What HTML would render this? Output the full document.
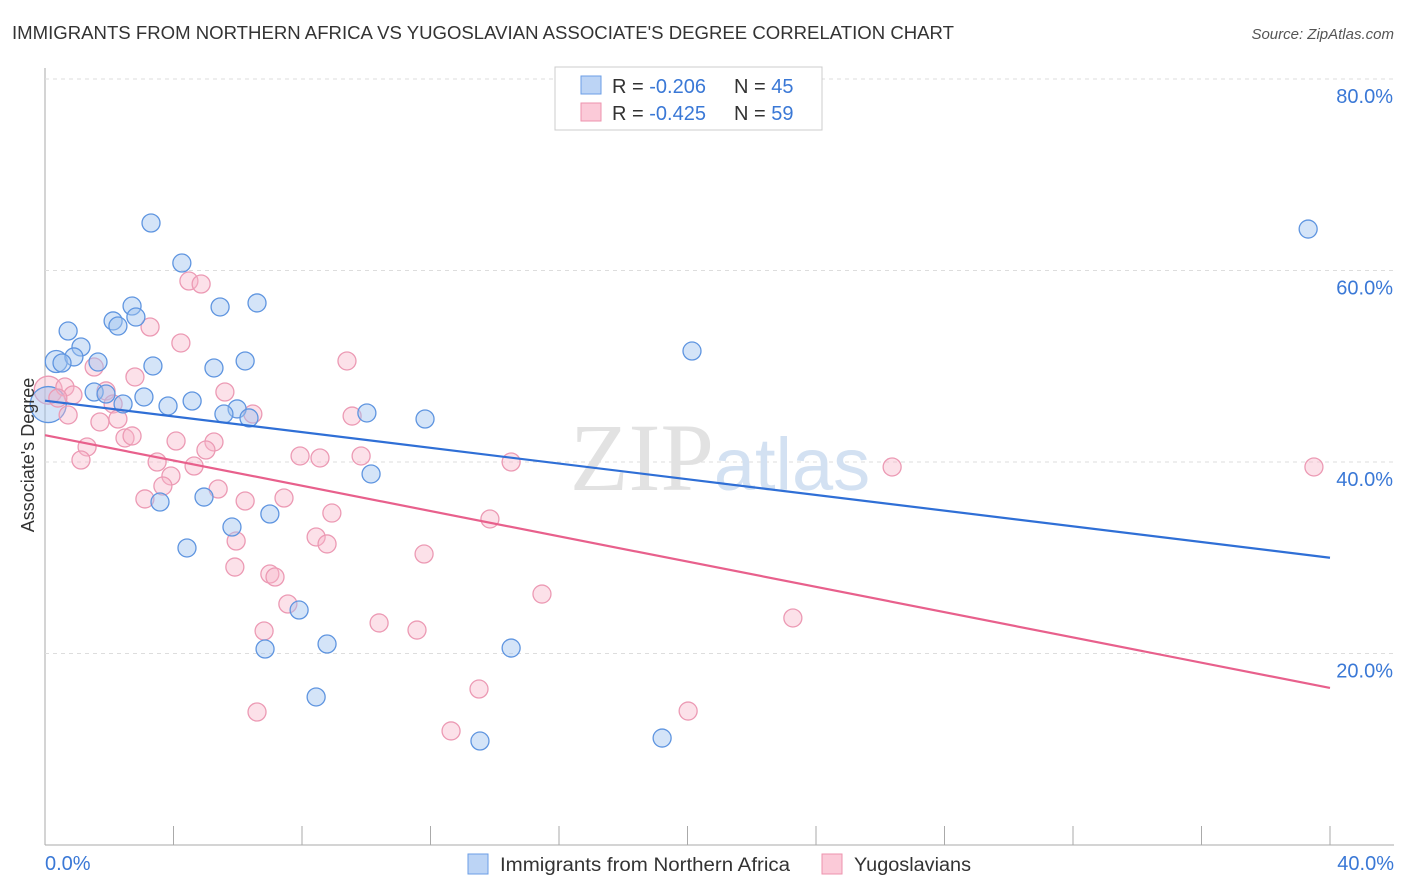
<!DOCTYPE html>
<html><head><meta charset="utf-8"><style>
body{margin:0;background:#fff;font-family:"Liberation Sans",sans-serif}
</style></head><body>
<svg width="1406" height="892" style="display:block">
<text x="12" y="39" font-size="18" fill="#333" textLength="942" lengthAdjust="spacingAndGlyphs">IMMIGRANTS FROM NORTHERN AFRICA VS YUGOSLAVIAN ASSOCIATE'S DEGREE CORRELATION CHART</text>
<text x="1394" y="39" font-size="15" fill="#555" text-anchor="end" font-style="italic">Source: ZipAtlas.com</text>
<g id="grid"></g>
<text x="720" y="490" font-size="96" fill="#e2e2e2" text-anchor="middle" font-family="Liberation Serif">ZIP<tspan fill="#d3e1f2" font-family="Liberation Sans" font-size="74">atlas</tspan></text>
<g id="marks"></g>
<text x="34" y="455" font-size="18" fill="#333" text-anchor="middle" transform="rotate(-90 34 455)">Associate's Degree</text>
<text x="45" y="870" font-size="20" fill="#3a78d6">0.0%</text>
<text x="1394" y="870" font-size="20" fill="#3a78d6" text-anchor="end">40.0%</text>
<g>
<rect x="555" y="67" width="267" height="63" fill="#fff" stroke="#ccc"/>
<rect x="581" y="76" width="20" height="18" fill="#bcd4f5" stroke="#6b9ee6"/>
<rect x="581" y="103" width="20" height="18" fill="#fbcad8" stroke="#ee93ae"/>
<text x="612" y="93" font-size="20" fill="#333">R = <tspan fill="#3a78d6">-0.206</tspan></text>
<text x="734" y="93" font-size="20" fill="#333">N = <tspan fill="#3a78d6">45</tspan></text>
<text x="612" y="120" font-size="20" fill="#333">R = <tspan fill="#3a78d6">-0.425</tspan></text>
<text x="734" y="120" font-size="20" fill="#333">N = <tspan fill="#3a78d6">59</tspan></text>
</g>
<g>
<rect x="468" y="854" width="20" height="20" fill="#bcd4f5" stroke="#6b9ee6"/>
<text x="500" y="871" font-size="19" fill="#333" textLength="290" lengthAdjust="spacingAndGlyphs">Immigrants from Northern Africa</text>
<rect x="822" y="854" width="20" height="20" fill="#fbcad8" stroke="#ee93ae"/>
<text x="854" y="871" font-size="19" fill="#333" textLength="117" lengthAdjust="spacingAndGlyphs">Yugoslavians</text>
</g>
</svg>
<script>
const yTicks=[20,40,60,80];
const yTickLabels=["20.0%","40.0%","60.0%","80.0%"];
const xTicks=[0,4,8,12,16,20,24,28,32,36,40];
const bluePx=[[151,223],[182,263],[132,306],[220,307],[257,303],[113,321],[118,326],[136,317],[68,331],[81,347],[74,357],[62,363],[98,362],[153,366],[214,368],[245,361],[692,351],[94,392],[106,394],[144,397],[123,404],[168,406],[192,401],[237,409],[224,414],[249,418],[367,413],[425,419],[371,474],[160,502],[204,497],[270,514],[232,527],[187,548],[299,610],[327,644],[265,649],[316,697],[511,648],[480,741],[662,738],[1308,229]];
const pinkPx=[[189,281],[201,284],[150,327],[181,343],[347,361],[94,367],[135,377],[106,391],[225,392],[65,387],[73,395],[58,398],[113,404],[118,419],[100,422],[253,414],[352,416],[68,415],[125,438],[132,436],[176,441],[214,442],[206,450],[87,447],[81,460],[300,456],[320,458],[361,456],[511,462],[157,462],[194,466],[171,476],[163,486],[218,489],[145,499],[245,501],[284,498],[332,513],[490,519],[236,541],[316,537],[327,544],[424,554],[235,567],[270,574],[275,577],[288,604],[542,594],[264,631],[379,623],[417,630],[793,618],[479,689],[688,711],[257,712],[451,731],[892,467],[1314,467]];
const toX=p=>+((p-45)/1285*40).toFixed(2), toY=p=>+((845-p)/9.575).toFixed(2);
const blueX=bluePx.map(d=>toX(d[0])), blueY=bluePx.map(d=>toY(d[1]));
const pinkX=pinkPx.map(d=>toX(d[0])), pinkY=pinkPx.map(d=>toY(d[1]));
const bigBlue=[[0.1,46.0],[0.35,50.5]], bigPink=[[0.1,47.5]];
const blueTrend=[46.4,30.0], pinkTrend=[42.8,16.4];
const sx=v=>45+v/40*1285, sy=v=>845-v*9.575;
const NS="http://www.w3.org/2000/svg";
const grid=document.getElementById('grid'), marks=document.getElementById('marks');
function mk(t,a,p){const e=document.createElementNS(NS,t);for(const k in a)e.setAttribute(k,a[k]);p.appendChild(e);return e;}
let ax=mk('line',{x1:45,y1:68,x2:45,y2:845,stroke:'#aaa'},grid);


let bx=mk('line',{x1:45,y1:845,x2:1394,y2:845,stroke:'#aaa'},grid);


mk('line',{x1:45,y1:79,x2:1394,y2:79,stroke:'#ddd','stroke-dasharray':'4,4'},grid);
yTicks.forEach((v,i)=>{
 const g=mk('line',{x1:45,y1:sy(v),x2:1394,y2:sy(v),stroke:'#ddd','stroke-dasharray':'4,4'},grid);
 
 
 const t=mk('text',{x:1393,y:sy(v)+24,'font-size':20,fill:'#3a78d6','text-anchor':'end'},grid);
 t.textContent=yTickLabels[i];
 
 
});
xTicks.slice(1).forEach(v=>{
 const l=mk('line',{x1:sx(v),y1:826,x2:sx(v),y2:845,stroke:'#aaa'},grid);
 
 
});
function dot(x,y,r,c){
 const e=mk('circle',{cx:sx(x),cy:sy(y),r:r,fill:c=='b'?'rgba(160,195,240,0.45)':'rgba(248,180,200,0.4)',stroke:c=='b'?'#5f95e0':'#ec9ab4','stroke-width':1.3},marks);
 
 
}
bigPink.forEach(d=>dot(d[0],d[1],14,'p'));
bigBlue.forEach((d,i)=>dot(d[0],d[1],i==0?18:11,'b'));
pinkX.forEach((x,i)=>dot(x,pinkY[i],9,'p'));
blueX.forEach((x,i)=>dot(x,blueY[i],9,'b'));
let bl=mk('line',{x1:sx(0),y1:sy(blueTrend[0]),x2:sx(40),y2:sy(blueTrend[1]),stroke:'#2f6fd6','stroke-width':2.2},marks);


let pl=mk('line',{x1:sx(0),y1:sy(pinkTrend[0]),x2:sx(40),y2:sy(pinkTrend[1]),stroke:'#e8608c','stroke-width':2.2},marks);


</script>
</body></html>
